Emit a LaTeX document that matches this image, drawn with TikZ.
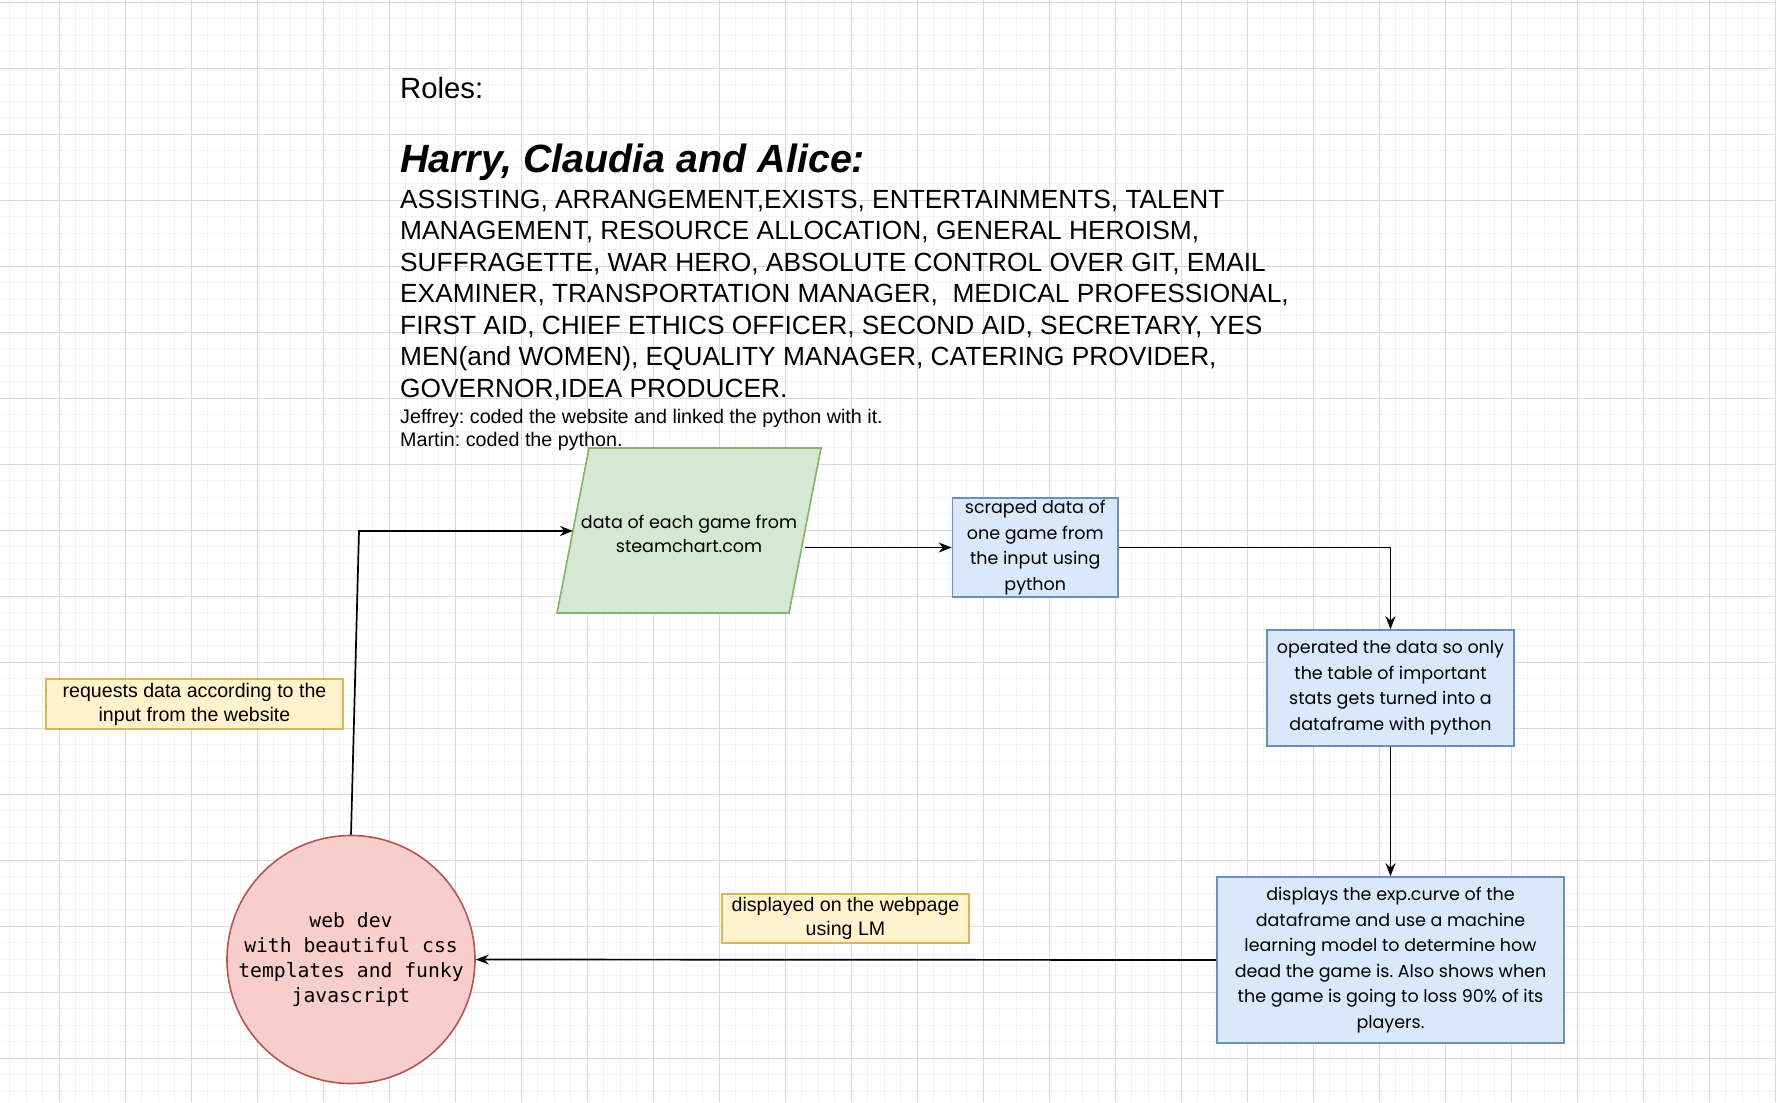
\documentclass[tikz,border=0pt]{standalone}
\usepackage{fontspec}
\setmainfont{Liberation Sans}
\newfontfamily\comicfont{Poppins}
\newfontfamily\codefont{DejaVu Sans Mono}
\usetikzlibrary{arrows.meta}
\frenchspacing
\definecolor{gridmajor}{HTML}{D9D9D9}
\definecolor{gridminor}{HTML}{F3F3F3}
\definecolor{greenfill}{HTML}{D5E8D4}
\definecolor{greenline}{HTML}{82B366}
\definecolor{bluefill}{HTML}{DAE8FC}
\definecolor{blueline}{HTML}{6C8EBF}
\definecolor{redfill}{HTML}{F8CECC}
\definecolor{redline}{HTML}{B85450}
\definecolor{yelfill}{HTML}{FFF2CC}
\definecolor{yelline}{HTML}{D6B656}
\begin{document}
\begin{tikzpicture}[x=1pt,y=-1pt,
  bluebox/.style={draw=blueline, fill=bluefill, line width=1.6pt, inner sep=0pt, align=center,
    font=\comicfont\fontsize{17.5}{25.5}\selectfont},
  yelbox/.style={draw=yelline, fill=yelfill, line width=1.6pt, inner sep=0pt, align=center,
    font=\fontsize{19.6}{24}\selectfont},
  webcircle/.style={circle, draw=redline, fill=redfill, line width=1.6pt, inner sep=0pt, align=center,
    minimum size=248pt, font=\codefont\fontsize{19.7}{25}\selectfont},
  pgshape/.style={draw=greenline, fill=greenfill, line width=1.6pt},
  pgtext/.style={inner sep=0pt, align=center, font=\comicfont\fontsize{17.5}{24}\selectfont},
  roletext/.style={anchor=base west, inner sep=0pt},
  arr/.style={-{Stealth[length=13pt,width=10pt]}, line width=1.7pt, black},
]
\useasboundingbox (0,0) rectangle (1776,1102);
\fill[white] (0,0) rectangle (1776,1102);
% grid
\foreach \i in {0,...,107} \draw[gridminor, line width=1pt] ({9.8+16.5*\i},0) -- ({9.8+16.5*\i},1102);
\foreach \i in {0,...,66} \draw[gridminor, line width=1pt] (0,{2.3+16.5*\i}) -- (1776,{2.3+16.5*\i});
\foreach \i in {0,...,26} \draw[gridmajor, line width=1pt] ({59.3+66*\i},0) -- ({59.3+66*\i},1102);
\foreach \i in {0,...,16} \draw[gridmajor, line width=1pt] (0,{2.3+66*\i}) -- (1776,{2.3+66*\i});

% roles text
\node[roletext, font=\fontsize{29.3}{35}\selectfont] (roles) at (400,99) {Roles:};
\node[roletext, font=\bfseries\itshape\fontsize{39.4}{47}\selectfont] (hca) at (400,173) {Harry, Claudia and Alice:};
\foreach \t [count=\i from 0] in {
  {ASSISTING, ARRANGEMENT,EXISTS, ENTERTAINMENTS, TALENT},
  {MANAGEMENT, RESOURCE ALLOCATION, GENERAL HEROISM,},
  {SUFFRAGETTE, WAR HERO, ABSOLUTE CONTROL OVER GIT, EMAIL},
  {EXAMINER, TRANSPORTATION MANAGER,\ \ MEDICAL PROFESSIONAL,},
  {FIRST AID, CHIEF ETHICS OFFICER, SECOND AID, SECRETARY, YES},
  {MEN(and WOMEN), EQUALITY MANAGER, CATERING PROVIDER,},
  {GOVERNOR,IDEA PRODUCER.}}
  \node[roletext, font=\fontsize{26.3}{31.5}\selectfont] (body\i) at (400,{208+31.5*\i}) {\t};
\node[roletext, font=\fontsize{19.7}{23}\selectfont] (jeffrey) at (400,423) {Jeffrey: coded the website and linked the python with it.};
\node[roletext, font=\fontsize{19.7}{23}\selectfont] (martin) at (400,446) {Martin: coded the python.};

% parallelogram
\coordinate (pgA) at (589,448);
\coordinate (pgB) at (821,448);
\coordinate (pgC) at (789,613);
\coordinate (pgD) at (557,613);
\draw[pgshape] (pgA) -- (pgB) -- (pgC) -- (pgD) -- cycle;
\node[pgtext] (pg) at (689,533.5) {data of each game from\\steamchart.com};
\coordinate (pgIn) at (573,531);
\coordinate (pgOut) at (805,547.5);

% boxes
\node[bluebox, minimum width=165.5pt, minimum height=99pt] (sc) at (1035.25,547.5)
  {scraped data of\\one game from\\the input using\\python};
\node[bluebox, minimum width=247pt, minimum height=116pt] (op) at (1390.5,688)
  {operated the data so only\\the table of important\\stats gets turned into a\\dataframe with python};
\node[bluebox, minimum width=347pt, minimum height=166pt] (disp) at (1390.5,960)
  {displays the exp.curve of the\\dataframe and use a machine\\learning model to determine how\\dead the game is. Also shows when\\the game is going to loss 90\% of its\\players.};
\node[webcircle] (web) at (351,959.5)
  {web dev\\with beautiful css\\templates and funky\\javascript};
\node[yelbox, minimum width=297pt, minimum height=50pt] (req) at (194.5,704)
  {requests data according to the\\input from the website};
\node[yelbox, minimum width=247pt, minimum height=49pt] (shown) at (845.5,918.5)
  {displayed on the webpage\\using LM};

% connectors
\coordinate (bend) at (359,531);
\draw[arr] (web.north) -- (bend) -- (pgIn);
\draw[arr] (pgOut) -- (sc.west);
\draw[arr] (sc.east) -| (op.north);
\draw[arr] (op.south) -- (disp.north);
\draw[arr] (disp.west) -- (web.east);
\end{tikzpicture}
\end{document}
